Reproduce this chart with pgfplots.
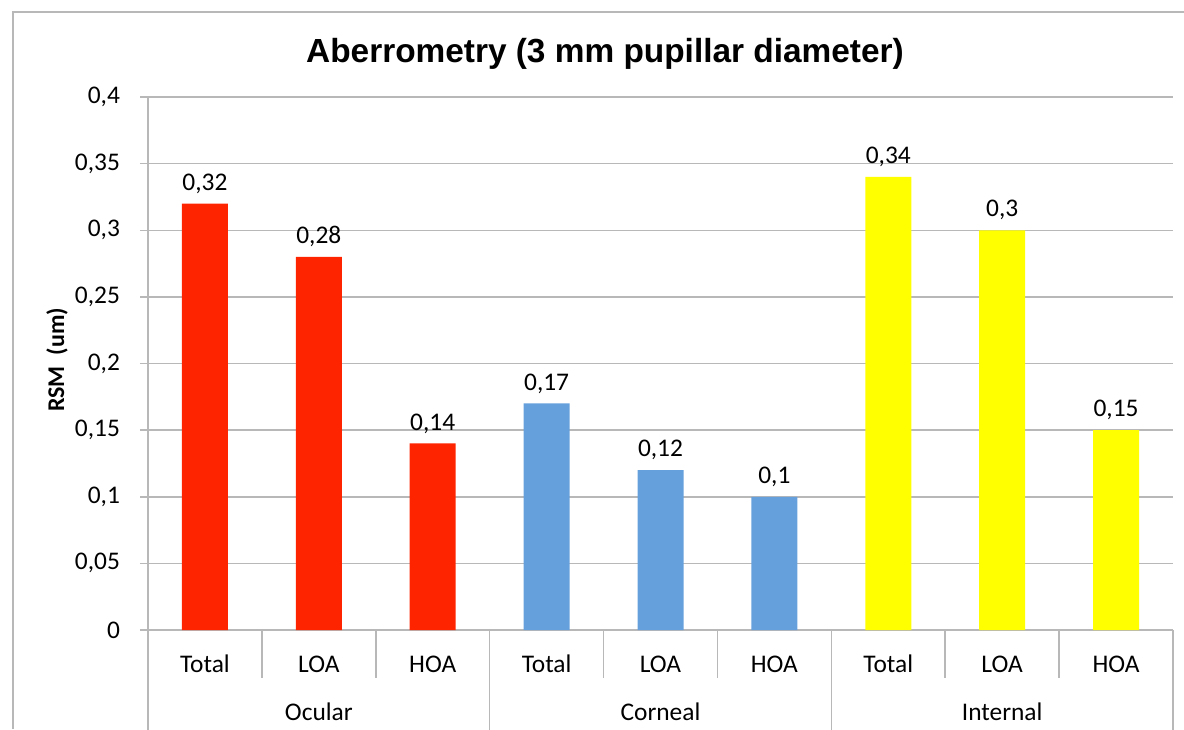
\documentclass[border=0pt]{standalone}
\usepackage{pgfplots}
\pgfplotsset{compat=1.18}
\usepackage{fontspec}
\setmainfont{Carlito}
\newfontfamily\arialf{Liberation Sans}
\definecolor{cred}{RGB}{255,36,0}
\definecolor{cblue}{RGB}{102,160,220}
\definecolor{cyel}{RGB}{255,255,0}
\definecolor{gridc}{RGB}{184,184,184}
\begin{document}
\begin{tikzpicture}
\path[use as bounding box] (-74pt,-49.5pt) rectangle (518pt,315pt);
\draw[gridc, line width=0.75pt] (-67.5pt,-49.5pt) -- (-67.5pt,309pt) -- (518pt,309pt);
\begin{axis}[
  at={(0,0)}, anchor=south west,
  scale only axis, width=512.5pt, height=266.5pt,
  xmin=-0.5, xmax=8.5, ymin=0, ymax=0.4,
  clip=false,
  axis lines*=left,
  axis line style={gridc, line width=0.75pt},
  ymajorgrids, grid style={gridc, line width=0.75pt},
  ytick={0,0.05,0.1,0.15,0.2,0.25,0.3,0.35,0.4},
  scaled y ticks=false,
  ytick align=outside, ytick pos=left,
  major tick length=4pt,
  y tick style={gridc, line width=0.75pt},
  xtick={0,1,2,3,4,5,6,7,8},
  xticklabels={Total,LOA,HOA,Total,LOA,HOA,Total,LOA,HOA},
  x tick style={draw=none},
  xticklabel style={anchor=base, yshift=-21pt},
  yticklabel style={anchor=east, xshift=-6.5pt},
  tick label style={font=\fontsize{12.7}{15}\selectfont},
  /pgf/number format/.cd, fixed, precision=2, use comma, assume math mode=true,
  /pgfplots/.cd,
  ylabel={RSM\ \ (um)},
  ylabel style={at={(axis description cs:-0.0888,0.507)}, anchor=center, font=\bfseries\fontsize{12}{14}\selectfont},
  every node near coord/.append style={font=\fontsize{12.7}{15}\selectfont, yshift=1.5pt},
]
\addplot[ybar, bar shift=0pt, bar width=23pt, fill=cred, draw=none, nodes near coords]
  coordinates {(0,0.32) (1,0.28) (2,0.14)};
\addplot[ybar, bar shift=0pt, bar width=23pt, fill=cblue, draw=none, nodes near coords]
  coordinates {(3,0.17) (4,0.12) (5,0.10)};
\addplot[ybar, bar shift=0pt, bar width=23pt, fill=cyel, draw=none, nodes near coords]
  coordinates {(6,0.34) (7,0.30) (8,0.15)};
\pgfplotsinvokeforeach{0.5,1.5,3.5,4.5,6.5,7.5}{
  \draw[gridc, line width=0.75pt] (axis cs:#1,0) -- ([yshift=-24pt]axis cs:#1,0);
}
\pgfplotsinvokeforeach{-0.5,2.5,5.5,8.5}{
  \draw[gridc, line width=0.75pt] (axis cs:#1,0) -- ([yshift=-50pt]axis cs:#1,0);
}
\node[anchor=base, font=\fontsize{12.7}{15}\selectfont] at ([yshift=-45pt]axis cs:1,0) {Ocular};
\node[anchor=base, font=\fontsize{12.7}{15}\selectfont] at ([yshift=-45pt]axis cs:4,0) {Corneal};
\node[anchor=base, font=\fontsize{12.7}{15}\selectfont] at ([yshift=-45pt]axis cs:7,0) {Internal};
\end{axis}
\node[font=\arialf\bfseries\fontsize{16.7}{20}\selectfont] at (228.5pt,288pt) {Aberrometry (3 mm pupillar diameter)};
\end{tikzpicture}
\end{document}
